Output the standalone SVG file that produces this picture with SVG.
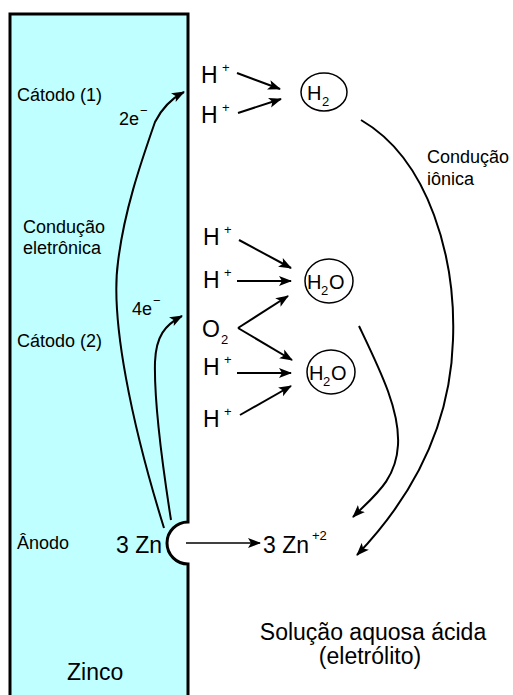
<svg xmlns="http://www.w3.org/2000/svg" width="513" height="695" viewBox="0 0 513 695">
<style>
text{font-family:"Liberation Sans",Arial,sans-serif;fill:#000}
.s{font-size:18px}
.b{font-size:23px}
.m{font-size:20px}
.sup{font-size:13px}
.c{fill:none;stroke:#000;stroke-width:2}
.o{fill:none;stroke:#000;stroke-width:1.5}
</style>
<defs>
<marker id="ah" markerUnits="userSpaceOnUse" markerWidth="14" markerHeight="12" refX="12" refY="5" orient="auto" viewBox="0 0 14 10">
<path d="M0,0 L13,5 L0,10 L3,5 z" fill="#000"/>
</marker>
</defs>
<rect width="513" height="695" fill="#fff"/>
<g id="electrode">
<path d="M10,700 V14 H188 V522 A21 21 0 0 0 188,564 V700" fill="#C0FFFF" stroke="#000" stroke-width="3"/>
<text class="s" x="17" y="101">Cátodo (1)</text>
<text class="s" x="23" y="233">Condução</text>
<text class="s" x="23" y="254">eletrônica</text>
<text class="s" x="17" y="347">Cátodo (2)</text>
<text class="s" x="17" y="549">Ânodo</text>
<text class="b" x="67" y="680">Zinco</text>
<text class="s" x="119" y="125">2e</text><text class="sup" x="140" y="115">−</text>
<text class="s" x="132" y="315">4e</text><text class="sup" x="153" y="305">−</text>
<text class="b" x="116" y="553">3 Zn</text>
</g>
<g id="connectors">
<path class="c" d="M164,528 C132,425 110,320 118,262 C124,212 140,165 155,122 Q165,102 184,92" marker-end="url(#ah)"/>
<path class="c" d="M171,520 C160,450 154,400 155,362 C156,336 165,325 182,316" marker-end="url(#ah)"/>
<path class="o" d="M186,543 H260" marker-end="url(#ah)"/>
<path class="c" d="M237,73 L280,89" marker-end="url(#ah)"/>
<path class="c" d="M238,113 L281,99" marker-end="url(#ah)"/>
<path class="c" d="M239,240 L291,268" marker-end="url(#ah)"/>
<path class="c" d="M237,281 L291,281" marker-end="url(#ah)"/>
<path class="c" d="M238,328 L288,296" marker-end="url(#ah)"/>
<path class="c" d="M238,328 L292,360" marker-end="url(#ah)"/>
<path class="c" d="M237,373 L291,373" marker-end="url(#ah)"/>
<path class="c" d="M240,415 L291,386" marker-end="url(#ah)"/>
<path class="c" d="M361,120 C430,160 456,260 453,340 C450,440 400,510 357,555" marker-end="url(#ah)"/>
<path class="c" d="M359,326 C380,370 400,410 398,445 C396,480 375,495 353,517" marker-end="url(#ah)"/>
</g>
<g id="hplus1"><text class="b" x="201" y="83">H</text><text class="sup" x="222" y="72">+</text></g>
<g id="hplus2"><text class="b" x="201" y="123">H</text><text class="sup" x="222" y="112">+</text></g>
<g id="h2"><ellipse cx="324" cy="92" rx="23" ry="19" fill="none" stroke="#000" stroke-width="1.5"/><text class="m" x="307" y="100">H</text><text class="sup" x="322" y="106">2</text></g>
<g id="hplus3"><text class="b" x="203" y="245">H</text><text class="sup" x="224" y="234">+</text></g>
<g id="hplus4"><text class="b" x="203" y="288">H</text><text class="sup" x="224" y="277">+</text></g>
<g id="o2"><text class="b" x="202" y="337">O</text><text class="sup" x="221" y="344">2</text></g>
<g id="hplus5"><text class="b" x="203" y="375">H</text><text class="sup" x="224" y="364">+</text></g>
<g id="hplus6"><text class="b" x="203" y="427">H</text><text class="sup" x="224" y="416">+</text></g>
<g id="h2o1"><ellipse cx="329" cy="281" rx="24" ry="22" fill="none" stroke="#000" stroke-width="1.5"/><text class="m" x="307" y="289">H</text><text class="sup" x="321" y="295">2</text><text class="m" x="329" y="289">O</text></g>
<g id="h2o2"><ellipse cx="331" cy="372" rx="24" ry="22" fill="none" stroke="#000" stroke-width="1.5"/><text class="m" x="309" y="380">H</text><text class="sup" x="323" y="386">2</text><text class="m" x="331" y="380">O</text></g>
<g id="zn2"><text class="b" x="263" y="553">3 Zn</text><text class="sup" x="312" y="540">+2</text></g>
<g id="ionic"><text class="s" x="427" y="163">Condução</text><text class="s" x="427" y="185">iônica</text></g>
<g id="solution"><text class="b" x="373" y="640" text-anchor="middle">Solução aquosa ácida</text><text class="b" x="370" y="664" text-anchor="middle">(eletrólito)</text></g>
</svg>
